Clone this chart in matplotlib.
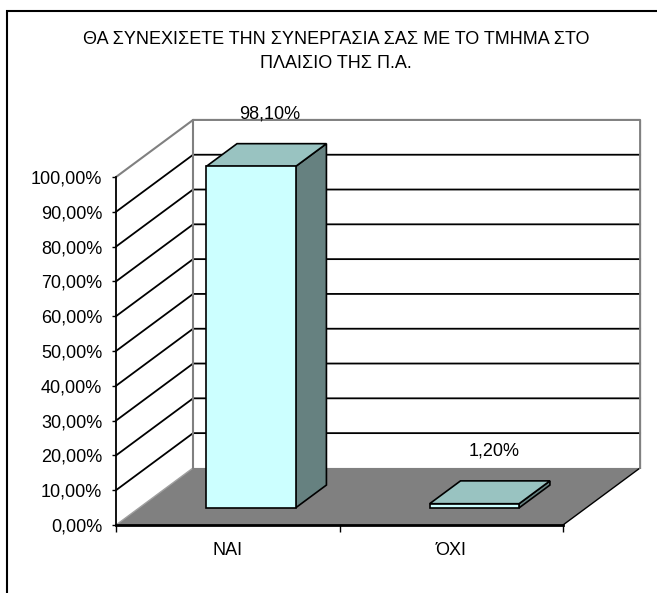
import matplotlib
matplotlib.use("Agg")
import matplotlib.pyplot as plt
from matplotlib.patches import Polygon, Rectangle
from matplotlib.ticker import FuncFormatter

plt.rcParams['font.family'] = ['Liberation Sans', 'DejaVu Sans']

title_lines = ["ΘΑ ΣΥΝΕΧΙΣΕΤΕ ΤΗΝ ΣΥΝΕΡΓΑΣΙΑ ΣΑΣ ΜΕ ΤΟ ΤΜΗΜΑ ΣΤΟ", "ΠΛΑΙΣΙΟ ΤΗΣ Π.Α."]
categories = ["ΝΑΙ", "ΌΧΙ"]
values = [98.10, 1.20]
value_labels = ["98,10%", "1,20%"]
yticks = list(range(0, 101, 10))

# oblique depth offset of the 3d box, in data units (categories, percent)
DX = 0.345
DY = 16.4
BAR_W = 0.4
D0, D1 = 0.3, 0.7

W, H = 657, 593
fig = plt.figure(figsize=(W / 100, H / 100), dpi=100)
ax = fig.add_axes([116 / W, 68 / H, 447 / W, 348 / H])
ax.set_xlim(0, len(categories))
ax.set_ylim(0, 100)
ax.patch.set_visible(False)

def proj(x, v, d):
    return (x + d * DX, v + d * DY)

n = len(categories)
grey = '#808080'

# floor
floor = Polygon([proj(0, 0, 0), proj(n, 0, 0), proj(n, 0, 1), proj(0, 0, 1)],
                closed=True, facecolor=grey, edgecolor='none', clip_on=False, zorder=1)
ax.add_patch(floor)
ax.plot(*zip(proj(n, 0, 0), proj(n, 0, 1)), color='black', lw=1.0, clip_on=False, zorder=2)
ax.plot(*zip(proj(0, 0, 0), proj(0, 0, 1)), color='#a0a0a0', lw=1.0, clip_on=False, zorder=2)

# gridlines on left wall and back wall
for v in yticks[1:-1]:
    ax.plot(*zip(proj(0, v, 0), proj(0, v, 1), proj(n, v, 1)),
            color='black', lw=1.3, clip_on=False, zorder=2)
top = yticks[-1]
ax.plot(*zip(proj(0, top, 0), proj(0, top, 1), proj(n, top, 1), proj(n, 0, 1)),
        color=grey, lw=1.5, clip_on=False, zorder=2)
ax.plot(*zip(proj(0, 0, 1), proj(0, top, 1)), color=grey, lw=1.5, clip_on=False, zorder=2)

# bars
for i, v in enumerate(values):
    x0 = i + 0.5 - BAR_W / 2
    x1 = i + 0.5 + BAR_W / 2
    front = [proj(x0, 0, D0), proj(x1, 0, D0), proj(x1, v, D0), proj(x0, v, D0)]
    side = [proj(x1, 0, D0), proj(x1, 0, D1), proj(x1, v, D1), proj(x1, v, D0)]
    topf = [proj(x0, v, D0), proj(x1, v, D0), proj(x1, v, D1), proj(x0, v, D1)]
    for pts, col in ((side, '#668180'), (topf, '#99C3C1'), (front, '#CCFFFF')):
        ax.add_patch(Polygon(pts, closed=True, facecolor=col, edgecolor='black',
                             lw=1.2, joinstyle='miter', clip_on=False, zorder=4))
    lx, ly = proj(i + 0.5, v, 0.55)
    ax.text(lx, ly + 11, value_labels[i], ha='center', va='center', fontsize=13, zorder=5)

# axes
for s in ('top', 'right'):
    ax.spines[s].set_visible(False)
ax.spines['left'].set_linewidth(1.3)
ax.spines['bottom'].set_linewidth(2.0)
ax.spines['left'].set_zorder(3)
ax.spines['bottom'].set_zorder(3)

ax.set_yticks(yticks)
ax.yaxis.set_major_formatter(FuncFormatter(lambda v, p: f"{v:.2f}".replace('.', ',') + '%'))
ax.tick_params(axis='y', direction='out', length=3, width=1, pad=7, labelsize=13)

ax.set_xticks(range(n + 1))
ax.set_xticklabels([''] * (n + 1))
ax.set_xticks([i + 0.5 for i in range(n)], minor=True)
ax.set_xticklabels(categories, minor=True)
ax.tick_params(axis='x', which='major', direction='out', length=5, width=1)
ax.tick_params(axis='x', which='minor', length=0, pad=12, labelsize=13)

for k, line in enumerate(title_lines):
    fig.text(336 / W, 1 - (43.5 + 24 * k) / H, line, ha='center', va='baseline', fontsize=13)

# chart area frame
fig.add_artist(Rectangle((7 / W, -0.2), 1.2, 1.2 - 11 / H, transform=fig.transFigure,
                         fill=False, edgecolor='black', lw=1.5))

fig.savefig("out.png", dpi=100)
